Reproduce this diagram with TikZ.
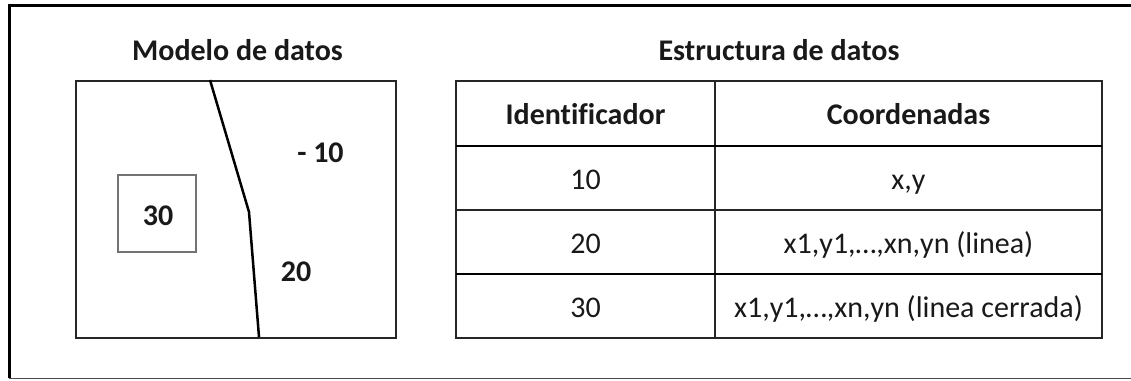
\documentclass[tikz,border=0pt]{standalone}
\usepackage{fontspec}
\setmainfont{Carlito}[Ligatures=NoCommon]
\begin{document}
\begin{tikzpicture}[x=1pt,y=-1pt,
  txt/.style={font=\fontsize{30}{36}\selectfont, inner sep=0pt, anchor=base, text=black!90},
  btxt/.style={txt, font=\fontsize{30}{36}\selectfont\bfseries},
  thinrule/.style={line width=1.3pt, black!85},
  thickrule/.style={line width=2.6pt, black}]
\useasboundingbox (0,0) rectangle (1131,380);

% outer frame (open on the right)
\draw[line width=3pt] (9,378) -- (9,5) -- (1131,5);
\draw[line width=1.3pt, black!70] (9,378.5) -- (1131,378.5);

% ---- data model ----
\node[btxt] (mtitle) at (237.5,60) {Modelo de datos};
\node[draw, line width=1.5pt, black!85, inner sep=0pt, anchor=north west,
      minimum width=320pt, minimum height=257pt] (map) at (75,80) {};
\coordinate (b1) at (210,80);
\coordinate (b2) at (249,212);
\coordinate (b3) at (259,337);
\draw[line width=2.5pt, line join=round] (b1) -- (b2) -- (b3);
\node[draw, line width=1.5pt, black!55, inner sep=0pt,
      minimum width=78pt, minimum height=77pt] (sq) at (157,213.5) {};
\node[btxt] (l30) at (158,225.5) {30};
\node[btxt] (l10) at (320.5,162) {- 10};
\node[btxt] (l20) at (296,281) {20};

% ---- data structure ----
\node[btxt] (ttitle) at (779,60) {Estructura de datos};
\draw[thinrule] (456,81) rectangle (1102,338);
\draw[thinrule] (715,81) -- (715,338);
\draw[thickrule] (456,146) -- (1102,146);
\draw[thinrule] (456,210) -- (1102,210);
\draw[thickrule] (456,274) -- (1102,274);

\node[btxt] (h1) at (585.5,124) {Identificador};
\node[btxt] (h2) at (908.5,124) {Coordenadas};
\node[txt] (r1a) at (585.5,189) {10};
\node[txt] (r1b) at (908.5,189) {x,y};
\node[txt] (r2a) at (585.5,253) {20};
\node[txt] (r2b) at (908.5,253) {x1,y1,…,xn,yn (linea)};
\node[txt] (r3a) at (585.5,317.5) {30};
\node[txt] (r3b) at (908.5,317.5) {x1,y1,…,xn,yn (linea cerrada)};
\end{tikzpicture}
\end{document}
